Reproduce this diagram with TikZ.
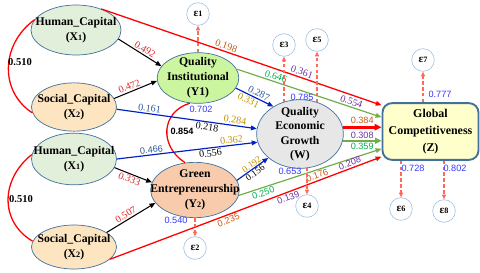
\documentclass[tikz,border=0pt]{standalone}
\usepackage{fontspec}
\setmainfont{Liberation Serif}
\setsansfont{Liberation Sans}
\usetikzlibrary{shapes.geometric,arrows.meta,calc}
\definecolor{edgeblue}{RGB}{65,113,156}
\definecolor{epsblue}{RGB}{157,190,225}
\definecolor{hcfill}{RGB}{226,239,218}
\definecolor{scfill}{RGB}{252,229,192}
\definecolor{yonefill}{RGB}{204,245,160}
\definecolor{ytwofill}{RGB}{248,203,173}
\definecolor{wfill}{RGB}{231,231,231}
\definecolor{zfill}{RGB}{255,255,204}
\definecolor{lnred}{RGB}{255,0,0}
\definecolor{lnblue}{RGB}{0,32,200}
\definecolor{lngreen}{RGB}{112,173,71}
\definecolor{dashred}{RGB}{255,105,90}
\definecolor{tred}{RGB}{225,40,40}
\definecolor{torange}{RGB}{197,90,17}
\definecolor{tgold}{RGB}{191,144,0}
\definecolor{tpurple}{RGB}{112,48,160}
\definecolor{tgreen}{RGB}{0,176,80}
\definecolor{tblue}{RGB}{47,85,151}
\definecolor{sblue}{RGB}{55,55,255}
\begin{document}
\begin{tikzpicture}[x=0.03cm,y=-0.03cm,
  lat/.style={ellipse, draw=edgeblue, line width=0.6pt, inner xsep=-30pt, inner ysep=-12pt,
    font=\rmfamily\fontsize{10}{12.8}\selectfont\bfseries, align=center},
  eps/.style={circle, draw=epsblue, fill=white, line width=0.5pt, minimum size=0.68cm, inner sep=0pt,
    font=\rmfamily\fontsize{9.5}{10}\selectfont\bfseries},
  coef/.style={font=\rmfamily\fontsize{8.6}{9}\selectfont, inner sep=1.2pt, sloped},
  scoef/.style={font=\sffamily\fontsize{7.8}{9}\selectfont, inner sep=1.2pt, sloped},
  sval/.style={font=\sffamily\fontsize{7.8}{9}\selectfont, inner sep=0pt, text=sblue},
  arr/.style={-{Triangle[length=5pt,width=4pt]}},
  redln/.style={draw=lnred, line width=1.1pt, arr},
  blueln/.style={draw=lnblue, line width=1pt, arr},
  greenln/.style={draw=lngreen, line width=1pt, arr},
  blackln/.style={draw=black, line width=0.9pt, arr},
  dsh/.style={draw=dashred, dashed, dash pattern=on 3pt off 2pt, line width=0.9pt, -{Triangle[length=4pt,width=3.5pt]}}]
\useasboundingbox (0,0) rectangle (480,272);

% latent variables
\node[lat, fill=hcfill, minimum width=2.7cm, minimum height=1.5cm] (HC1) at (76,30) {Human\_Capital\\(X{\fontsize{7}{7}\selectfont 1})};
\node[lat, fill=scfill, minimum width=2.55cm, minimum height=1.45cm] (SC1) at (74,107) {Social\_Capital\\(X{\fontsize{7}{7}\selectfont 2})};
\node[lat, fill=hcfill, minimum width=2.55cm, minimum height=1.55cm] (HC2) at (74,159) {Human\_Capital\\(X{\fontsize{7}{7}\selectfont 1})};
\node[lat, fill=scfill, minimum width=2.55cm, minimum height=1.32cm] (SC2) at (74,247) {Social\_Capital\\(X{\fontsize{7}{7}\selectfont 2})};
\node[lat, fill=yonefill, minimum width=2.45cm, minimum height=1.52cm] (Y1) at (198,78) {Quality\\Institutional\\(Y1)};
\node[lat, fill=ytwofill, minimum width=2.66cm, minimum height=1.66cm] (Y2) at (195,190) {Green\\Entrepreneurship\\(Y{\fontsize{7}{7}\selectfont 2})};
\node[lat, fill=wfill, minimum width=2.6cm, minimum height=2.06cm, font=\rmfamily\fontsize{10}{12.3}\selectfont\bfseries] (W) at (300,134) {Quality\\Economic\\Growth\\(W)};
\node[draw=edgeblue, line width=1.6pt, fill=zfill, rounded corners=8pt, minimum width=2.88cm, minimum height=1.7cm,
  inner sep=0pt, align=center, font=\rmfamily\fontsize{10.2}{14.5}\selectfont\bfseries] (Z) at (430.5,131.5) {Global\\Competitiveness\\(Z)};

% error terms
\node[eps] (E1) at (198,14) {ε{\fontsize{7}{7}\selectfont 1}};
\node[eps] (E2) at (195,248) {ε{\fontsize{7}{7}\selectfont 2}};
\node[eps] (E3) at (284,45) {ε{\fontsize{7}{7}\selectfont 3}};
\node[eps] (E4) at (307,206) {ε{\fontsize{7}{7}\selectfont 4}};
\node[eps] (E5) at (317,40) {ε{\fontsize{7}{7}\selectfont 5}};
\node[eps] (E6) at (401,209) {ε{\fontsize{7}{7}\selectfont 6}};
\node[eps] (E7) at (423,60) {ε{\fontsize{7}{7}\selectfont 7}};
\node[eps] (E8) at (444,211) {ε{\fontsize{7}{7}\selectfont 8}};

% correlations
\draw[draw=lnred, line width=1.1pt] (HC1.166) .. controls (0,45) and (0,92) .. (SC1.188);
\draw[draw=lnred, line width=1.1pt] (HC2.174) .. controls (0,180) and (0,222) .. (SC2.172);
\draw[draw=lnred, line width=1.1pt] (Y1.252) .. controls (161,112) and (159,146) .. (Y2.110);
\node[font=\rmfamily\fontsize{9}{10}\selectfont\bfseries] (r1) at (20,62) {0.510};
\node[font=\rmfamily\fontsize{9}{10}\selectfont\bfseries] (r2) at (21,199) {0.510};
\node[font=\sffamily\bfseries\fontsize{7.8}{9}\selectfont] (r3) at (182,131) {0.854};

% paths
\draw[blackln] (HC1.-12) -- node[coef, above, pos=0.55, text=tred]{0.492} (Y1.162);
\draw[blackln] (SC1.12) -- node[coef, above, pos=0.4, text=tred]{0.472} (Y1.184);
\draw[blackln] (HC2.-12) -- node[coef, below, pos=0.45, text=tred]{0.333} (Y2.170);
\draw[blackln] (SC2.24) -- node[coef, above, pos=0.45, text=tred]{0.507} (Y2.198);

\draw[redln] (HC1.40) -- node[coef, above, pos=0.44, text=torange]{0.198}
  node[coef, above, pos=0.71, text=tpurple]{0.361} ($(Z.north west)+(0,3)$);
\draw[greenln] (Y1.13) -- node[coef, above, pos=0.26, text=tgreen]{0.646}
  node[coef, above, pos=0.78, text=tpurple]{0.554} ($(Z.north west)+(0,15)$);
\draw[blueln] (Y1.-15) -- node[coef, above, pos=0.55, text=tblue]{0.287}
  node[coef, below, pos=0.4, text=tgold]{0.331} (W.134);
\draw[blueln] (SC1.-3) -- node[coef, above, pos=0.23, text=tblue]{0.161}
  node[coef, above, pos=0.84, text=tgold]{0.284}
  node[coef, below, pos=0.65]{0.218} (W.173);
\draw[blueln] (HC2.0) -- node[scoef, above, pos=0.25, text=tblue]{0.466}
  node[coef, above, pos=0.82, text=tgold]{0.362}
  node[coef, below, pos=0.66]{0.556} (W.191);
\draw[blueln] (Y2.13) -- node[coef, above, pos=0.55, inner sep=0.5pt, font=\rmfamily\fontsize{8}{8}\selectfont, text=tgold]{0.192}
  node[coef, below, pos=0.5, inner sep=0.5pt, font=\rmfamily\fontsize{8}{8}\selectfont]{0.156} (W.217);
\draw[greenln] (Y2.-7) -- node[scoef, below, pos=0.16, text=tgreen]{0.250} ($(Z.south west)+(0,-12)$);
\draw[redln] (SC2.-19) -- node[scoef, below, pos=0.43, text=torange]{0.235}
  node[scoef, below, pos=0.65, text=tpurple]{0.139}
  node[scoef, above, pos=0.77, text=torange]{0.176}
  node[scoef, above, pos=0.89, text=tpurple]{0.208} ($(Z.south west)+(0,-4)$);
\draw[draw=lnred, line width=2.2pt, -{Triangle[length=6pt,width=5.5pt]}] (W.9.5) -- node[scoef, above=1pt, pos=0.5, text=torange]{0.384} (W.9.5 -| Z.west);
\draw[draw=lngreen, line width=1.6pt, -{Triangle[length=5.5pt,width=5pt]}] (W.-9.5) -- node[scoef, above, pos=0.5, text=tpurple]{0.308}
  node[scoef, below, pos=0.5, text=tgreen]{0.359} (W.-9.5 -| Z.west);

% error arrows
\draw[dsh] (Y1.north) -- (E1);
\draw[dsh] ($(E3 |- W.north)+(0,3)$) -- (E3);
\draw[dsh] ($(E5 |- W.north)+(0,3)$) -- (E5);
\draw[dsh] ($(E4 |- W.south)+(0,-1)$) -- (E4);
\draw[dsh] (Y2.south) -- (E2);
\draw[dsh] (E7 |- Z.north) -- (E7);
\draw[dsh] (E6 |- Z.south) -- (E6);
\draw[dsh] (E8 |- Z.south) -- (E8);

% R-square values
\node[sval] (v1) at (201,109) {0.702};
\node[sval] (v2) at (176,220) {0.540};
\node[sval] (v3) at (302,97) {0.785};
\node[sval] (v4) at (290,171) {0.653};
\node[sval] (v5) at (440,94) {0.777};
\node[sval] (v6) at (413,168) {0.728};
\node[sval] (v7) at (455,168) {0.802};
\end{tikzpicture}
\end{document}
